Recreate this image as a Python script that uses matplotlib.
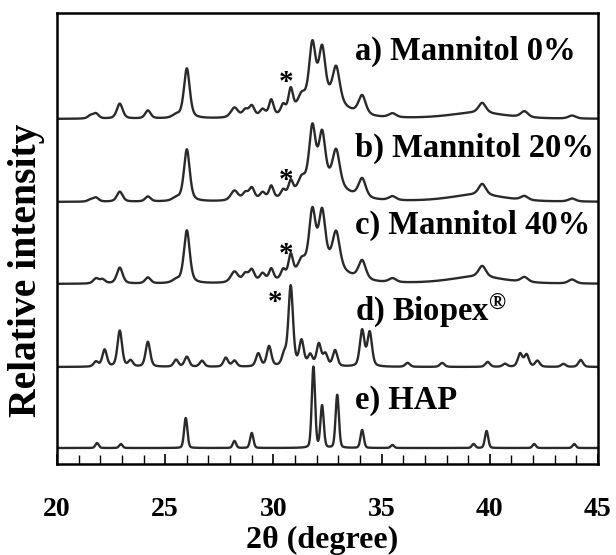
import numpy as np
import matplotlib
matplotlib.use("Agg")
import matplotlib.pyplot as plt

plt.rcParams['font.family'] = ['Liberation Serif', 'DejaVu Serif']
plt.rcParams['font.weight'] = 'bold'
plt.rcParams['mathtext.fontset'] = 'custom'
plt.rcParams['mathtext.rm'] = 'Liberation Serif:bold'
plt.rcParams['mathtext.bf'] = 'Liberation Serif:bold'
plt.rcParams['mathtext.it'] = 'Liberation Serif:bold'

# ---- data: peak lists (2theta, relative height, FWHM) ----
pos_a = [21.55, 21.8, 22.9, 24.2, 25.5, 26.0, 28.2, 28.7, 29.0, 29.5, 29.9, 30.45, 30.8, 31.3, 31.8, 32.25, 32.9, 34.1, 35.5, 39.65, 41.6, 43.8, 32.3, 39.4]
hgt_a = [3, 5, 15, 8, 3, 50, 10, 7, 11, 7, 16, 9, 23, 12, 58, 50, 36, 19, 4, 10, 6, 3, 18, 6]
wid_a = [0.3, 0.3, 0.32, 0.3, 0.4, 0.32, 0.4, 0.3, 0.3, 0.3, 0.25, 0.25, 0.25, 0.4, 0.35, 0.35, 0.4, 0.4, 0.4, 0.4, 0.4, 0.4, 2.2, 3.0]

pos_b = pos_a
hgt_b = [2, 4, 10, 5, 3, 52, 10, 7, 12, 7, 13, 7, 14, 12, 58, 48, 36, 19, 4, 11, 4, 3, 18, 7]
wid_b = wid_a

pos_c = [21.8, 22.1, 22.9, 24.2, 25.5, 26.0, 28.2, 28.7, 29.0, 29.5, 29.9, 30.45, 30.8, 31.3, 31.8, 32.25, 32.9, 34.1, 35.5, 39.65, 41.6, 43.8, 32.3, 39.4]
hgt_c = [5, 4, 16, 6, 3, 53, 11, 8, 12, 8, 12, 9, 22, 12, 56, 52, 36, 19, 4, 11, 5, 4, 18, 7]
wid_c = wid_a

pos_d = [21.8, 22.2, 22.9, 23.4, 24.2, 25.5, 26.0, 26.7, 27.8, 28.2, 29.3, 29.8, 30.5, 30.8, 31.3, 31.7, 32.1, 32.4, 32.85, 34.1, 34.45, 36.2, 37.8, 39.9, 40.7, 41.4, 41.7, 42.2, 43.4, 44.2]
hgt_d = [5, 17, 36, 6, 25, 7, 10, 6, 9, 6, 13, 20, 11, 80, 25, 11, 22, 12, 16, 36, 34, 4, 4, 5, 3, 13, 12, 6, 3, 7]
wid_d = [0.25] * len(pos_d)

pos_e = [21.85, 22.95, 25.95, 28.2, 29.0, 31.85, 32.25, 32.95, 34.1, 35.5, 39.25, 39.85, 42.05, 43.9]
hgt_e = [5, 4, 30, 7, 15, 81, 42, 53, 18, 3, 4, 17, 4, 4]
wid_e = [0.18] * len(pos_e)

labels = ['a) Mannitol 0%', 'b) Mannitol 20%', 'c) Mannitol 40%',
          r'd) Biopex$^{\mathrm{®}}$', 'e) HAP']
offsets = [345, 262, 180, 97, 16]
label_y = [413, 316, 239, 154, 64]
star_x = [30.6, 30.6, 30.6, 30.1]
star_y = [381, 283, 210, 162]

x = np.linspace(20, 45, 3001)


def pattern(pos, hgt, wid, eta):
    y = np.zeros_like(x)
    for p, h, w in zip(pos, hgt, wid):
        g = np.exp(-4 * np.log(2) * ((x - p) / w) ** 2)
        l = 1.0 / (1.0 + ((x - p) / (w / 2)) ** 2)
        y += h * (eta * l + (1 - eta) * g)
    return y


series = [
    pattern(pos_a, hgt_a, wid_a, 0.5),
    pattern(pos_b, hgt_b, wid_b, 0.5),
    pattern(pos_c, hgt_c, wid_c, 0.5),
    pattern(pos_d, hgt_d, wid_d, 0.4),
    pattern(pos_e, hgt_e, wid_e, 0.2),
]

fig = plt.figure(figsize=(6.16, 5.55), dpi=100)
ax = fig.add_axes([57 / 616, 91 / 555, 541 / 616, 451 / 555])

for s, off in zip(series, offsets):
    ax.plot(x, s + off, color='#2a2a2a', lw=1.7)

for lab, ly in zip(labels, label_y):
    ax.text(33.75, ly, lab, fontsize=23.5, fontweight='bold', ha='left', va='center')

for sx, sy in zip(star_x, star_y):
    ax.text(sx, sy, '*', fontsize=21, fontweight='bold', ha='center', va='center')

ax.set_xlim(20, 45)
ax.set_ylim(0, 451)
ax.set_yticks([])
ax.set_xticks([20, 25, 30, 35, 40, 45])
ax.set_xticks(np.arange(20, 46, 1), minor=True)
ax.tick_params(axis='x', which='major', direction='in', length=7.5, width=1.2,
               labelsize=20, pad=24)
ax.tick_params(axis='x', which='minor', direction='in', length=6.5, width=1.0)
for sp in ax.spines.values():
    sp.set_linewidth(1.8)
for lab in ax.get_xticklabels():
    lab.set_fontweight('bold')

fig.text(27 / 616, 1 - 270 / 555, 'Relative intensity', rotation=90, fontsize=28.5,
         fontweight='bold', ha='center', va='center')
fig.text(322 / 616, 1 - 540 / 555, '2θ (degree)', fontsize=23,
         fontweight='bold', ha='center', va='center')

fig.savefig('out.png', dpi=100)
